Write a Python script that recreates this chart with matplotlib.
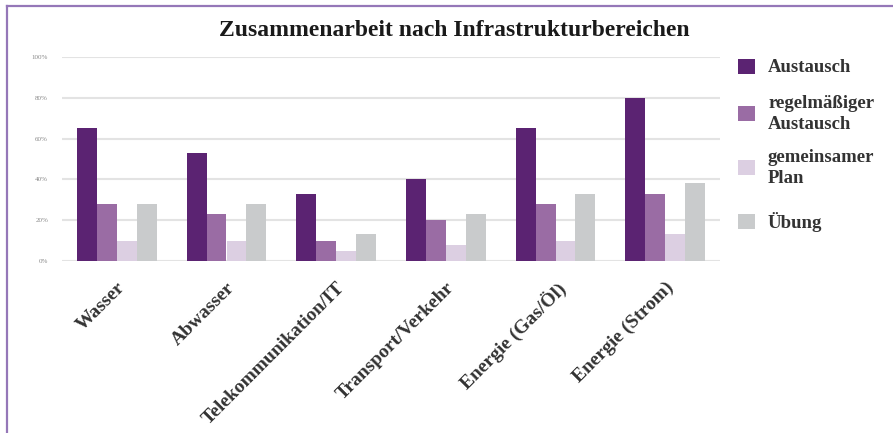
import matplotlib
matplotlib.use("Agg")
import matplotlib.pyplot as plt
import numpy as np
from matplotlib.lines import Line2D
from matplotlib.patches import Rectangle

categories = ["Wasser", "Abwasser", "Telekommunikation/IT", "Transport/Verkehr",
              "Energie (Gas/Öl)", "Energie (Strom)"]
series_names = ["Austausch", "regelmäßiger\nAustausch", "gemeinsamer\nPlan", "Übung"]
austausch = [65, 53, 33, 40, 65, 80]
regelmaessig = [28, 23, 10, 20, 28, 33]
gemeinsam = [10, 10, 5, 8, 10, 13]
uebung = [28, 28, 13, 23, 33, 38]
yticks = [0, 20, 40, 60, 80, 100]
ytick_labels = ["0%", "20%", "40%", "60%", "80%", "100%"]

colors = ["#5b2372", "#9a6ca4", "#dccfe2", "#c9cbcc"]
serif = ["Liberation Serif", "DejaVu Serif"]

W, H = 893, 433
fig = plt.figure(figsize=(W / 100, H / 100), dpi=100)
ax = fig.add_axes([62/W, 1-261/H, (720-62)/W, (261-57)/H])

x = np.arange(len(categories))
w = 0.182
all_series = [austausch, regelmaessig, gemeinsam, uebung]
for i, (vals, c) in enumerate(zip(all_series, colors)):
    ax.bar(x + (i - 1.5) * w, vals, width=w, color=c, zorder=3, linewidth=0,
           label=series_names[i])

ax.set_xlim(-0.5, len(categories) - 0.5)
ax.set_ylim(0, 100)
ax.set_yticks(yticks)
ax.set_yticklabels(ytick_labels, fontsize=5, color="#888888", family=serif)
ax.yaxis.grid(True, color="#e3e3e3", linewidth=1.5, zorder=0)
ax.tick_params(axis="both", length=0)
ax.tick_params(axis="y", pad=10)
for s in ax.spines.values():
    s.set_visible(False)

ax.set_xticks(x)
ax.set_xticklabels(categories, rotation=45, ha="right", va="top",
                   rotation_mode="anchor", fontsize=14, fontweight="bold",
                   color="#333333", family=serif)
ax.tick_params(axis="x", pad=13)

fig.text(454/W, 1-30/H, "Zusammenarbeit nach Infrastrukturbereichen",
         ha="center", va="center", fontsize=17, fontweight="bold",
         color="#1a1a1a", family=serif)

# legend (placed manually to match spacing of the reference)
sq_x0, sq_w, sq_h = 738, 17, 15
centers = [66, 113, 167, 221]
for name, c, cy in zip(series_names, colors, centers):
    fig.patches.append(Rectangle((sq_x0/W, 1-(cy+sq_h/2)/H), sq_w/W, sq_h/H,
                                 transform=fig.transFigure, facecolor=c,
                                 edgecolor="none"))
    fig.text(768/W, 1-(cy+1)/H, name, ha="left", va="center", fontsize=13.5,
             fontweight="bold", color="#333333", family=serif, linespacing=1.25)

frame_color = "#9577b8"
fig.add_artist(Line2D([6.5/W, 1], [1-5.5/H, 1-5.5/H], color=frame_color,
                      linewidth=1.6, transform=fig.transFigure))
fig.add_artist(Line2D([6.5/W, 6.5/W], [0, 1-5.5/H], color=frame_color,
                      linewidth=1.6, transform=fig.transFigure))

fig.savefig("out.png", dpi=100, facecolor="white")
